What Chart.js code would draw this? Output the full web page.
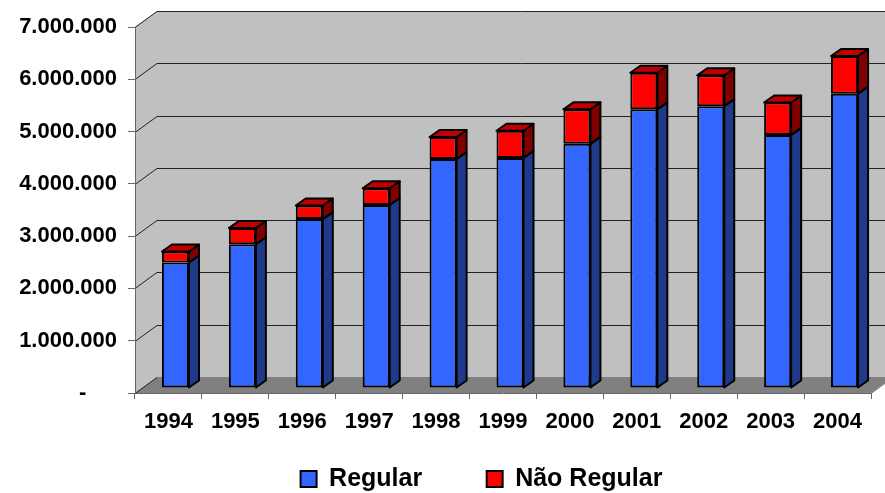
<!DOCTYPE html>
<html>
<head>
<meta charset="utf-8">
<title>Regular / Não Regular 1994-2004</title>
<script src="https://cdn.jsdelivr.net/npm/chart.js@4.4.1/dist/chart.umd.min.js"></script>
<style>
  html, body { margin: 0; padding: 0; background: #fff; }
</style>
</head>
<body>
<canvas id="myChart" width="885" height="493"></canvas>
<script>
// data
var years = ['1994', '1995', '1996', '1997', '1998', '1999', '2000', '2001', '2002', '2003', '2004'];
var regular = [2400000, 2750000, 3230000, 3500000, 4380000, 4400000, 4670000, 5330000, 5390000, 4840000, 5630000];
var naoRegular = [210000, 310000, 260000, 320000, 420000, 520000, 660000, 700000, 590000, 620000, 720000];
var yTicks = [0, 1000000, 2000000, 3000000, 4000000, 5000000, 6000000, 7000000];

// fake 3D depth (excel look)
var DX = 22, DY = 16;  // walls
var BX = 10, BY = 7;   // bar sides
var SX = 7, SY = 5;    // bars stand a bit behind the front edge

var font = "'Liberation Sans', Arial, sans-serif";

function fmt(v) {
    if (v === 0) return '-     ';
    return String(v).replace(/\B(?=(\d{3})+(?!\d))/g, '.');
}

function poly(ctx, pts) {
    ctx.beginPath();
    ctx.moveTo(pts[0][0], pts[0][1]);
    for (var i = 1; i < pts.length; i++) ctx.lineTo(pts[i][0], pts[i][1]);
    ctx.closePath();
}

// back wall, side wall, floor and grid lines
var walls = {
    id: 'walls',
    afterLayout: function (chart) {
        // legend sits a little right of centre and closer to the axis
        var lg = chart.legend;
        lg.left += 46; lg.right += 46;
        lg.top -= 31; lg.bottom -= 31;
    },
    beforeDraw: function (chart) {
        var ctx = chart.ctx, a = chart.chartArea, ys = chart.scales.y;
        ctx.save();
        ctx.fillStyle = '#fff';
        ctx.fillRect(0, 0, chart.width, chart.height);

        ctx.fillStyle = '#c0c0c0';
        ctx.fillRect(a.left + DX, a.top - DY, a.right - a.left, a.bottom - a.top);
        poly(ctx, [[a.left, a.top], [a.left + DX, a.top - DY], [a.left + DX, a.bottom - DY], [a.left, a.bottom]]);
        ctx.fill();

        ctx.fillStyle = '#808080';
        poly(ctx, [[a.left, a.bottom], [a.left + DX, a.bottom - DY], [a.right + DX, a.bottom - DY], [a.right, a.bottom]]);
        ctx.fill();

        ctx.strokeStyle = '#222';
        ctx.lineWidth = 1;
        yTicks.forEach(function (v) {
            var py = Math.round(ys.getPixelForValue(v)) + 0.5;
            ctx.beginPath();
            ctx.moveTo(a.left, py);
            ctx.lineTo(a.left + DX, py - DY);
            if (v !== 0) ctx.lineTo(a.right + DX, py - DY);
            ctx.stroke();
        });
        ctx.strokeStyle = '#666';
        ctx.beginPath();
        ctx.moveTo(a.right, a.bottom + 0.5);
        ctx.lineTo(a.right + DX, a.bottom - DY + 0.5);
        ctx.stroke();
        ctx.restore();
    }
};

// side and top faces of the bars
var bars3d = {
    id: 'bars3d',
    beforeDatasetsDraw: function (chart) {
        chart.ctx.save();
        chart.ctx.translate(SX, -SY);
    },
    afterDatasetsDraw: function (chart) {
        var ctx = chart.ctx;
        var last = chart.data.datasets.length - 1;
        ctx.lineWidth = 2;
        ctx.lineJoin = 'round';
        ctx.strokeStyle = '#000';
        chart.data.datasets.forEach(function (ds, di) {
            chart.getDatasetMeta(di).data.forEach(function (bar) {
                var p = bar.getProps(['x', 'y', 'base', 'width'], true);
                var l = p.x - p.width / 2, r = p.x + p.width / 2;
                var t = Math.min(p.y, p.base), b = Math.max(p.y, p.base);
                ctx.fillStyle = ds.sideColor;
                poly(ctx, [[r, t], [r + BX, t - BY], [r + BX, b - BY], [r, b]]);
                ctx.fill();
                ctx.stroke();
                if (di === last) {
                    ctx.fillStyle = ds.topColor;
                    poly(ctx, [[l, t], [l + BX, t - BY], [r + BX, t - BY], [r, t]]);
                    ctx.fill();
                    ctx.stroke();
                }
            });
        });
        ctx.restore();
    }
};

var ctx = document.getElementById('myChart');
var myChart = new Chart(ctx, {
    type: 'bar',
    data: {
        labels: years,
        datasets: [{
            label: 'Regular',
            data: regular,
            backgroundColor: '#3366ff',
            sideColor: '#1f3a8a',
            topColor: '#2850c8',
            borderColor: '#000',
            borderWidth: 2,
            borderSkipped: false,
            clip: false
        }, {
            label: 'Não Regular',
            data: naoRegular,
            backgroundColor: '#ff0000',
            sideColor: '#800000',
            topColor: '#c00000',
            borderColor: '#000',
            borderWidth: 2,
            borderSkipped: false,
            clip: false
        }]
    },
    options: {
        responsive: false,
        animation: false,
        devicePixelRatio: 1,
        layout: {
            padding: { left: 0, right: 14, top: 27, bottom: -39.5 }
        },
        datasets: {
            bar: { categoryPercentage: 1, barPercentage: 0.404 }
        },
        scales: {
            x: {
                stacked: true,
                afterFit: function (scale) { scale.height = 40; },
                grid: { offset: true, drawOnChartArea: false, tickLength: 6, color: '#666' },
                border: { color: '#666', width: 1 },
                ticks: { color: '#000', padding: 10, maxRotation: 0, font: { family: font, size: 22, weight: 'bold' } }
            },
            y: {
                stacked: true,
                min: 0,
                max: 7000000,
                afterFit: function (scale) { scale.width = 135; },
                afterBuildTicks: function (scale) {
                    scale.ticks = yTicks.map(function (v) { return { value: v }; });
                },
                grid: { drawOnChartArea: false, tickLength: 7, color: '#666' },
                border: { color: '#666', width: 1 },
                ticks: {
                    color: '#000',
                    padding: 11,
                    font: { family: font, size: 22, weight: 'bold' },
                    callback: function (value) { return fmt(value); }
                }
            }
        },
        plugins: {
            legend: {
                position: 'bottom',
                labels: {
                    color: '#000',
                    boxWidth: 16,
                    boxHeight: 16,
                    padding: 64.5,
                    font: { family: font, size: 25, weight: 'bold' }
                }
            },
            tooltip: { enabled: false }
        }
    },
    plugins: [walls, bars3d]
});
</script>
</body>
</html>
